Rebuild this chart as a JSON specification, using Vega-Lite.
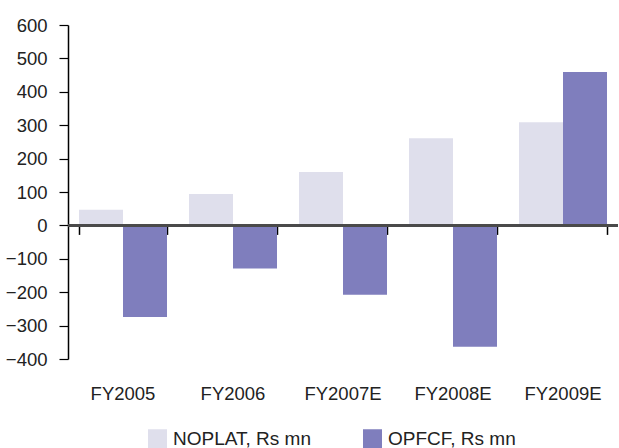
{
  "$schema": "https://vega.github.io/schema/vega-lite/v6.json",
  "width": 550,
  "height": 334,
  "autosize": {"type": "none"},
  "padding": {"left": 68, "top": 25, "right": 1, "bottom": 89},
  "background": "white",
  "config": {
    "view": {"stroke": null},
    "font": "Liberation Sans",
    "axis": {"labelFont": "Liberation Sans", "labelColor": "#222222", "grid": false}
  },
  "data": {
    "values": [
      {"year": "FY2005", "series": "NOPLAT, Rs mn", "value": 47},
      {"year": "FY2005", "series": "OPFCF, Rs mn", "value": -274},
      {"year": "FY2006", "series": "NOPLAT, Rs mn", "value": 94},
      {"year": "FY2006", "series": "OPFCF, Rs mn", "value": -129},
      {"year": "FY2007E", "series": "NOPLAT, Rs mn", "value": 160},
      {"year": "FY2007E", "series": "OPFCF, Rs mn", "value": -208},
      {"year": "FY2008E", "series": "NOPLAT, Rs mn", "value": 261},
      {"year": "FY2008E", "series": "OPFCF, Rs mn", "value": -363},
      {"year": "FY2009E", "series": "NOPLAT, Rs mn", "value": 309},
      {"year": "FY2009E", "series": "OPFCF, Rs mn", "value": 459}
    ]
  },
  "resolve": {"axis": {"x": "independent", "y": "independent"}},
  "layer": [
    {
      "mark": {"type": "bar"},
      "encoding": {
        "x": {
          "field": "year",
          "type": "nominal",
          "sort": null,
          "scale": {"paddingInner": 0.2, "paddingOuter": 0.1},
          "axis": {
            "orient": "bottom",
            "title": null,
            "domain": false,
            "ticks": false,
            "labelAngle": 0,
            "labelFontSize": 18.5,
            "labelBaseline": "top",
            "labelPadding": 25
          }
        },
        "xOffset": {
          "field": "series",
          "type": "nominal",
          "sort": ["NOPLAT, Rs mn", "OPFCF, Rs mn"],
          "scale": {"paddingInner": 0, "paddingOuter": 0}
        },
        "y": {
          "field": "value",
          "type": "quantitative",
          "scale": {"domain": [-400, 600], "nice": false, "zero": false},
          "axis": {
            "orient": "left",
            "title": null,
            "values": [-400, -300, -200, -100, 0, 100, 200, 300, 400, 500, 600],
            "labelOverlap": false,
            "labelFlush": false,
            "domainColor": "#000000",
            "domainWidth": 1.5,
            "tickColor": "#000000",
            "tickWidth": 1.2,
            "tickSize": 9,
            "labelFontSize": 18.5,
            "labelPadding": 12
          }
        },
        "color": {
          "field": "series",
          "type": "nominal",
          "scale": {
            "domain": ["NOPLAT, Rs mn", "OPFCF, Rs mn"],
            "range": ["#DFDFEC", "#7F7EBD"]
          },
          "legend": {
            "title": null,
            "orient": "none",
            "legendX": 80,
            "legendY": 404,
            "direction": "horizontal",
            "symbolType": "square",
            "symbolSize": 361,
            "symbolStrokeWidth": 0,
            "labelFontSize": 19,
            "labelColor": "#222222",
            "labelOffset": 6,
            "columnPadding": 52
          }
        }
      }
    },
    {
      "mark": {"type": "text", "text": ""},
      "encoding": {
        "x": {
          "field": "year",
          "type": "nominal",
          "sort": null,
          "axis": {
            "orient": "bottom",
            "offset": -133.6,
            "title": null,
            "labels": false,
            "domain": false,
            "ticks": true,
            "tickBand": "extent",
            "tickColor": "#000000",
            "tickWidth": 1.5,
            "tickSize": 9
          }
        },
        "y": {"datum": 0, "type": "quantitative", "axis": null}
      }
    },
    {
      "mark": {"type": "rule", "color": "#4a4a4a", "strokeWidth": 2},
      "encoding": {
        "y": {"datum": 0, "type": "quantitative", "axis": null}
      }
    }
  ]
}
